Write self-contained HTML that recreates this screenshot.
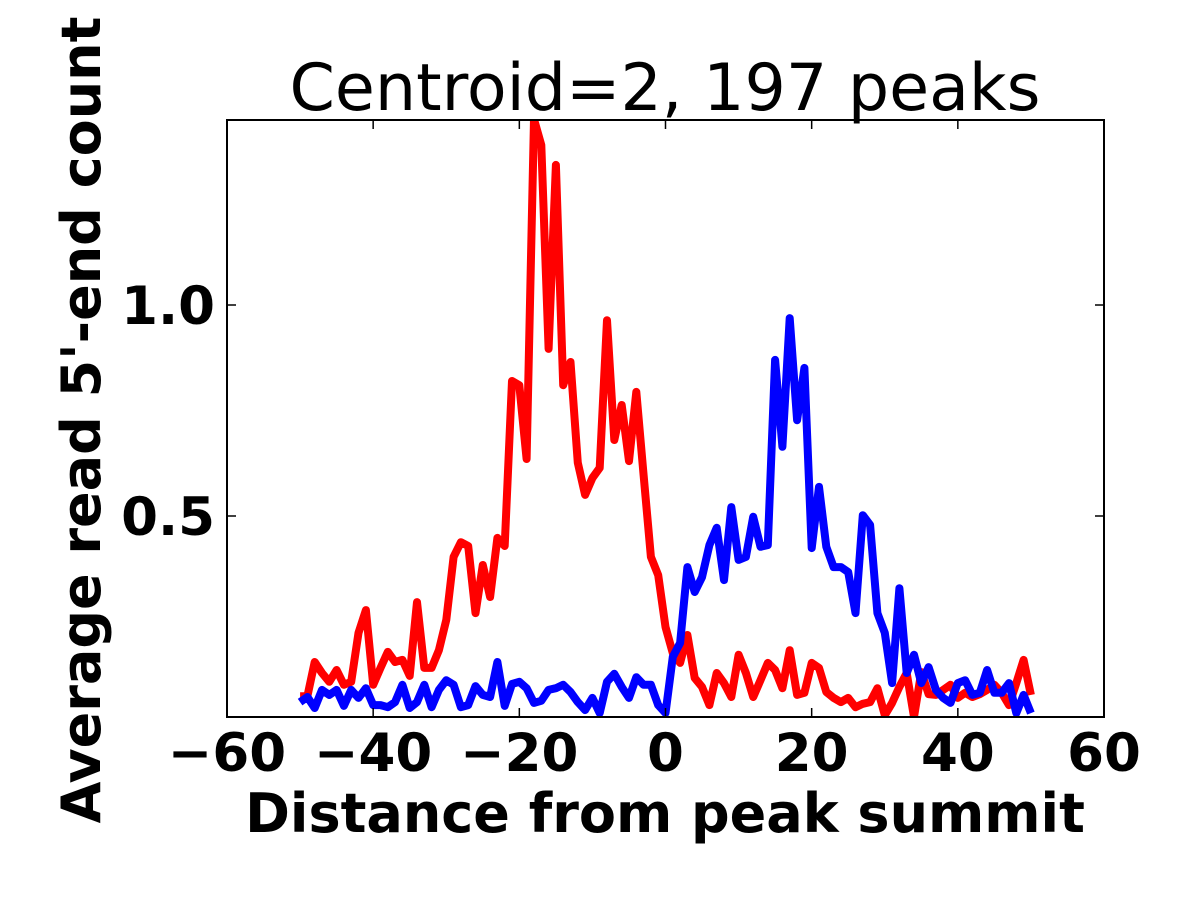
<!DOCTYPE html>
<html><head><meta charset="utf-8"><style>
html,body{margin:0;padding:0;background:#fff;width:1200px;height:900px;overflow:hidden}
svg text{font-family:"DejaVu Sans","Liberation Sans",sans-serif}
</style></head><body>
<svg id="chart" width="1200" height="900" viewBox="0 0 1200 900" xmlns="http://www.w3.org/2000/svg">
<defs><clipPath id="plotclip"><rect x="227" y="120" width="877" height="597"/></clipPath></defs>
<rect x="0" y="0" width="1200" height="900" fill="#fff"/>
<text x="665" y="110" font-size="65" text-anchor="middle">Centroid=2, 197 peaks</text>
<g id="series" clip-path="url(#plotclip)"></g>
<rect x="227" y="120" width="877" height="597" fill="none" stroke="#000" stroke-width="2"/>
<g id="ticks"></g>
<text x="665" y="832" font-size="54" font-weight="bold" text-anchor="middle">Distance from peak summit</text>
<text transform="translate(100,420) rotate(-90)" font-size="54" font-weight="bold" text-anchor="middle">Average read 5'-end count</text>
</svg>
<script>
const xValues = [];
for (let i = -50; i <= 50; i++) xValues.push(i);
const redValues = [0.073,0.073,0.154,0.128,0.107,0.135,0.100,0.107,0.223,0.277,0.100,0.140,0.178,0.154,0.159,0.121,0.296,0.140,0.140,0.182,0.254,0.403,0.438,0.429,0.270,0.384,0.308,0.448,0.429,0.820,0.810,0.635,1.44,1.379,0.896,1.332,0.810,0.865,0.626,0.550,0.590,0.614,0.964,0.680,0.763,0.630,0.794,0.597,0.403,0.360,0.237,0.175,0.152,0.218,0.116,0.095,0.052,0.128,0.104,0.071,0.171,0.128,0.071,0.111,0.152,0.135,0.092,0.182,0.076,0.081,0.152,0.140,0.083,0.069,0.059,0.069,0.047,0.055,0.059,0.092,0.028,0.057,0.095,0.128,0.024,0.130,0.078,0.076,0.088,0.100,0.069,0.081,0.071,0.078,0.088,0.100,0.081,0.052,0.104,0.159,0.076];
const blueValues = [0.059,0.071,0.045,0.088,0.076,0.088,0.050,0.088,0.069,0.092,0.052,0.052,0.047,0.059,0.100,0.045,0.059,0.100,0.047,0.088,0.111,0.100,0.047,0.052,0.097,0.076,0.071,0.154,0.050,0.102,0.107,0.092,0.057,0.062,0.088,0.092,0.100,0.083,0.059,0.040,0.069,0.033,0.107,0.126,0.095,0.069,0.118,0.100,0.100,0.052,0.033,0.166,0.199,0.379,0.320,0.355,0.431,0.472,0.348,0.521,0.396,0.403,0.498,0.427,0.431,0.870,0.664,0.969,0.727,0.851,0.424,0.569,0.427,0.379,0.379,0.367,0.270,0.502,0.479,0.270,0.223,0.104,0.329,0.128,0.171,0.104,0.142,0.088,0.069,0.057,0.104,0.111,0.076,0.081,0.135,0.081,0.081,0.104,0.033,0.076,0.033];
const xTicks = [-60,-40,-20,0,20,40,60];
const xTickLabels = ["\u221260","\u221240","\u221220","0","20","40","60"];
const yTicks = [0.5,1.0];
const yTickLabels = ["0.5","1.0"];

const X0=227,X1=1104,Y0=717,Y1=120, xmin=-60,xmax=60, ymin=0.0237, ymax=1.4384;
const sx=v=>X0+(v-xmin)/(xmax-xmin)*(X1-X0);
const sy=v=>Y0-(v-ymin)/(ymax-ymin)*(Y0-Y1);
const NS="http://www.w3.org/2000/svg";
const series=document.getElementById('series');
function line(vals,color,name){
  const p=document.createElementNS(NS,'polyline');
  
  
  p.setAttribute('points', vals.map((v,i)=>sx(xValues[i]).toFixed(1)+','+sy(v).toFixed(1)).join(' '));
  p.setAttribute('fill','none');p.setAttribute('stroke',color);p.setAttribute('stroke-width','8');
  p.setAttribute('stroke-linejoin','round');
  series.appendChild(p);
}
line(redValues,'#ff0000','red-series-line');
line(blueValues,'#0000ff','blue-series-line');
const tg=document.getElementById('ticks');
function seg(x1,y1,x2,y2){const l=document.createElementNS(NS,'line');
  
  
  l.setAttribute('x1',x1);l.setAttribute('y1',y1);l.setAttribute('x2',x2);l.setAttribute('y2',y2);
  l.setAttribute('stroke','#000');l.setAttribute('stroke-width','1.5');tg.appendChild(l);}
function txt(x,y,s,anchor){const t=document.createElementNS(NS,'text');
  
  
  t.setAttribute('x',x);t.setAttribute('y',y);t.setAttribute('font-size','53');t.setAttribute('font-weight','bold');
  t.setAttribute('text-anchor',anchor);t.textContent=s;tg.appendChild(t);}
xTicks.forEach((v,i)=>{const x=sx(v);seg(x,Y0,x,Y0-9);seg(x,Y1,x,Y1+9);txt(x,771,xTickLabels[i],'middle');});
yTicks.forEach((v,i)=>{const y=sy(v);seg(X0,y,X0+9,y);seg(X1,y,X1-9,y);txt(X0-12,y+19,yTickLabels[i],'end');});
</script>
</body></html>
